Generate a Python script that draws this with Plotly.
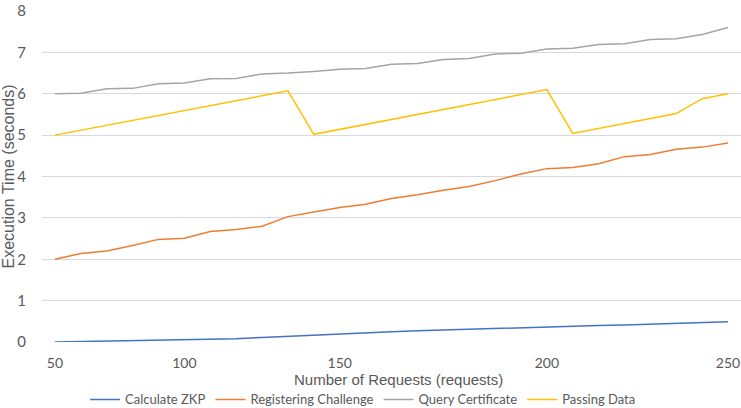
import plotly.graph_objects as go

# Number of requests (category axis; only some labels are shown)
requests = ["50", "60", "70", "80", "90", "100", "108", "117", "125", "133", "142",
            "150", "156", "162", "169", "175", "181", "188", "194", "200",
            "207", "214", "221", "229", "236", "243", "250"]
tick_labels = ["50", "100", "150", "200", "250"]

calculate_zkp = [0.0, 0.01, 0.02, 0.03, 0.04, 0.05, 0.07, 0.08, 0.11, 0.14, 0.17,
                 0.19, 0.22, 0.25, 0.27, 0.29, 0.31, 0.33, 0.34, 0.36, 0.38,
                 0.4, 0.41, 0.43, 0.45, 0.47, 0.49]
registering_challenge = [2.0, 2.14, 2.2, 2.33, 2.48, 2.51, 2.67, 2.72, 2.8, 3.03, 3.14,
                         3.25, 3.33, 3.47, 3.56, 3.67, 3.76, 3.9, 4.06, 4.19, 4.22,
                         4.31, 4.48, 4.53, 4.66, 4.71, 4.81]
query_certificate = [6.0, 6.01, 6.12, 6.13, 6.24, 6.26, 6.36, 6.37, 6.48, 6.5, 6.54,
                     6.59, 6.61, 6.71, 6.73, 6.83, 6.85, 6.96, 6.98, 7.08, 7.1,
                     7.19, 7.21, 7.31, 7.33, 7.43, 7.6]
passing_data = [5.0, 5.12, 5.24, 5.36, 5.48, 5.6, 5.72, 5.83, 5.95, 6.07, 5.02,
                5.14, 5.26, 5.38, 5.5, 5.62, 5.74, 5.86, 5.98, 6.1, 5.04,
                5.16, 5.28, 5.4, 5.52, 5.88, 6.0]

series = [
    ("Calculate ZKP", calculate_zkp, "#4472C4"),
    ("Registering Challenge", registering_challenge, "#ED7D31"),
    ("Query Certificate", query_certificate, "#A5A5A5"),
    ("Passing Data", passing_data, "#FFC000"),
]

fig = go.Figure()
for name, vals, color in series:
    fig.add_trace(go.Scatter(x=requests, y=vals, mode="lines", name=name,
                             line=dict(color=color, width=1.5)))

fig.update_layout(
    width=741, height=408,
    margin=dict(l=42, r=0, t=11, b=66, autoexpand=False),
    paper_bgcolor="white", plot_bgcolor="white",
    font=dict(family="Lato, Liberation Sans, sans-serif", color="#595959", size=14),
    legend=dict(orientation="h", xref="container", yref="container",
                x=0.49, xanchor="center", y=0.021, yanchor="middle",
                font=dict(size=13, color="#595959"), itemwidth=30,
                tracegroupgap=0, bgcolor="rgba(0,0,0,0)"),
    showlegend=True,
)
# x-axis title as an annotation so it sits clear of the tick labels
fig.add_annotation(text="Number of Requests (requests)", xref="paper", yref="paper",
                   x=0.51, y=-0.114, xanchor="center", yanchor="middle", showarrow=False,
                   borderpad=0,
                   font=dict(family="Liberation Sans, Arial, sans-serif", size=15, color="#595959"))
fig.update_xaxes(
    type="category", categoryorder="array", categoryarray=requests,
    tickmode="array", tickvals=tick_labels, ticktext=tick_labels,
    range=[-0.5, 26.5], showgrid=False, zeroline=False, showline=False,
    ticks="outside", ticklen=8, tickcolor="rgba(0,0,0,0)",
    ticklabeloverflow="allow", automargin=False,
    tickfont=dict(size=14, color="#595959"),
)
fig.update_yaxes(
    range=[0, 8], dtick=1, showgrid=True, gridcolor="#d9d9d9", gridwidth=1,
    zeroline=False, showline=False, automargin=True,
    ticks="outside", ticklen=12, tickcolor="rgba(0,0,0,0)",
    ticklabeloverflow="allow",
    tickfont=dict(size=15, color="#595959"),
    title=dict(text="Execution Time (seconds)", standoff=0,
               font=dict(family="Liberation Sans, Arial, sans-serif", size=16, color="#595959")),
)

# remove the browser's default 8px body margin so the figure fills the window
fig.write_html("out.html", config={"displayModeBar": False},
               post_script="document.body.style.margin='0';")
